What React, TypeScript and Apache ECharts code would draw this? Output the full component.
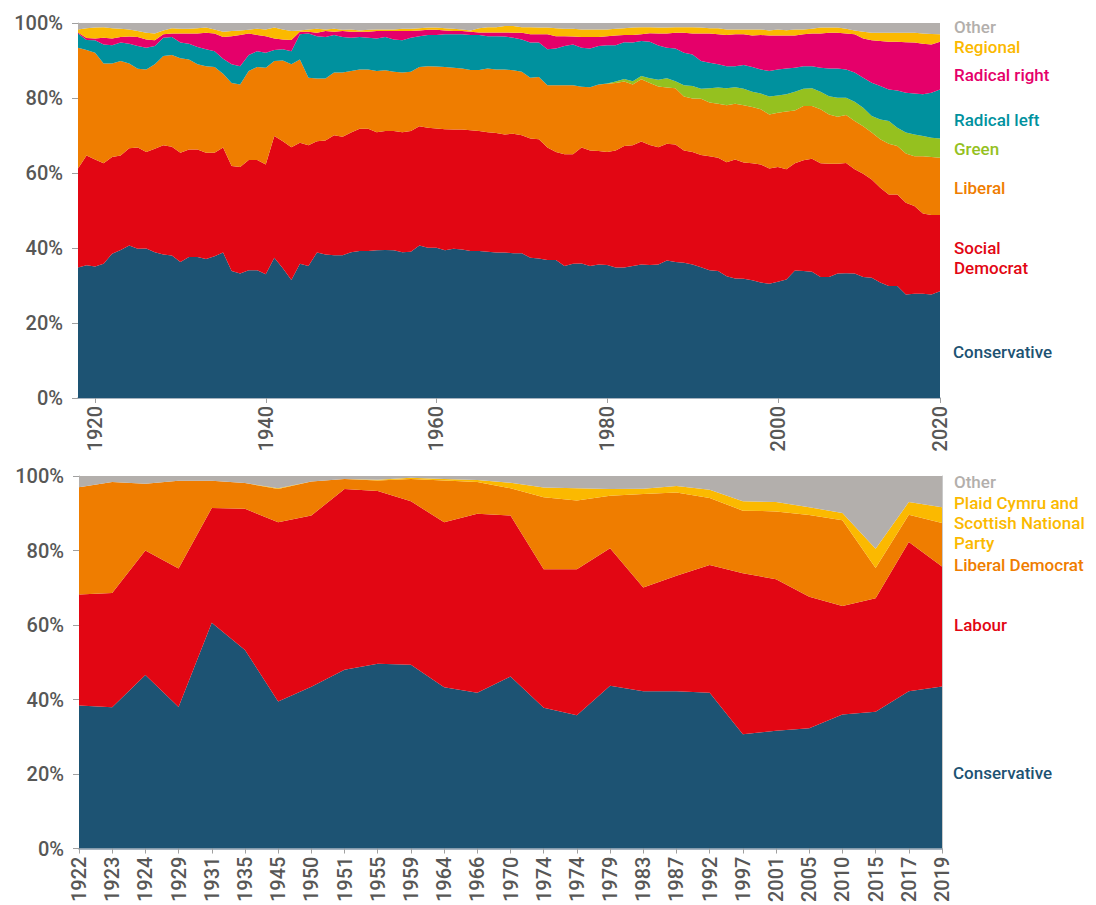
import React, { useEffect, useRef } from "react";
import * as echarts from "echarts";

// ---------- Top panel: yearly vote shares by party family (1918–2019) ----------
const years: string[] = Array.from({ length: 102 }, (_, i) => String(1918 + i));
const yearTickLabels = ["1920", "1940", "1960", "1980", "2000"];
const lastYearLabel = "2020";

const conservative = [
  34.8, 35.4, 35.1, 35.8, 38.5, 39.5, 40.7, 39.8, 39.9, 38.9,
  38.3, 38.0, 36.3, 37.6, 37.6, 37.1, 37.8, 38.8, 33.9, 33.2,
  34.1, 34.1, 33.0, 37.4, 34.6, 31.5, 35.8, 35.2, 38.8, 38.3,
  38.1, 38.1, 38.9, 39.2, 39.2, 39.4, 39.5, 39.4, 38.9, 39.0,
  40.7, 40.1, 40.1, 39.4, 39.8, 39.6, 39.2, 39.2, 39.0, 38.8,
  38.8, 38.6, 38.6, 37.4, 37.2, 36.8, 36.8, 35.2, 35.8, 35.9,
  35.2, 35.6, 35.5, 34.8, 34.8, 35.2, 35.6, 35.5, 35.6, 36.7,
  36.3, 36.1, 35.6, 34.9, 34.1, 33.9, 32.5, 31.9, 31.8, 31.4,
  30.8, 30.5, 31.0, 31.6, 34.0, 33.9, 33.7, 32.3, 32.3, 33.2,
  33.3, 33.2, 32.3, 32.1, 30.8, 29.9, 29.9, 27.6, 27.8, 27.8,
  27.6, 28.5,
];
const socialDemocrat = [
  26.4, 29.3, 28.5, 26.8, 25.8, 25.2, 25.9, 27.0, 25.7, 27.6,
  29.1, 29.0, 29.1, 28.7, 28.7, 28.3, 27.6, 28.0, 28.0, 28.4,
  29.4, 29.4, 29.3, 32.5, 33.9, 35.4, 32.3, 32.2, 29.7, 30.4,
  32.0, 31.6, 31.9, 32.6, 32.6, 31.5, 31.7, 31.8, 32.0, 32.2,
  31.8, 32.0, 31.8, 32.3, 31.8, 32.0, 32.2, 32.0, 31.9, 31.9,
  31.5, 31.9, 31.5, 31.8, 31.8, 30.0, 28.8, 29.8, 29.2, 30.9,
  30.8, 30.3, 30.1, 31.2, 32.4, 32.2, 32.8, 32.0, 31.3, 31.1,
  31.3, 29.9, 30.0, 29.9, 30.4, 30.2, 30.4, 31.7, 31.0, 31.2,
  31.5, 30.7, 30.6, 29.4, 28.6, 29.5, 30.1, 30.3, 30.2, 29.3,
  29.4, 27.8, 27.5, 26.2, 25.3, 24.4, 24.4, 24.5, 23.4, 21.4,
  21.2, 20.3,
];
const liberal = [
  32.2, 28.1, 28.5, 26.6, 24.9, 25.2, 22.6, 21.0, 22.0, 22.5,
  23.8, 24.5, 25.2, 24.0, 22.7, 23.1, 22.9, 19.7, 22.1, 22.0,
  23.7, 24.8, 25.8, 20.0, 21.5, 22.1, 22.2, 18.0, 16.7, 16.5,
  16.7, 17.1, 16.4, 15.8, 15.8, 16.3, 16.2, 15.8, 15.9, 15.8,
  15.8, 16.4, 16.5, 16.6, 16.5, 16.3, 16.1, 16.3, 17.0, 16.9,
  17.3, 16.9, 16.9, 16.2, 16.6, 16.6, 17.8, 18.4, 18.4, 16.2,
  16.9, 17.7, 18.2, 18.0, 17.2, 16.2, 16.6, 16.5, 16.2, 15.0,
  15.0, 14.4, 14.3, 15.0, 14.3, 14.4, 15.2, 14.9, 15.3, 15.0,
  14.7, 14.4, 14.5, 15.4, 14.1, 14.5, 14.1, 14.4, 13.1, 12.5,
  12.8, 12.9, 12.7, 12.5, 12.9, 13.5, 12.9, 13.1, 13.3, 15.3,
  15.5, 15.3,
];
const green = [
  0, 0, 0, 0, 0, 0, 0, 0, 0, 0,
  0, 0, 0, 0, 0, 0, 0, 0, 0, 0,
  0, 0, 0, 0, 0, 0, 0, 0, 0, 0,
  0, 0, 0, 0, 0, 0, 0, 0, 0, 0,
  0, 0, 0, 0, 0, 0, 0, 0, 0, 0,
  0, 0, 0, 0, 0, 0, 0, 0, 0, 0,
  0, 0, 0.1, 0.4, 0.7, 0.9, 0.9, 1.3, 1.8, 2.5,
  1.9, 3.0, 3.3, 2.7, 3.8, 4.3, 4.5, 4.4, 4.4, 4.1,
  4.2, 4.8, 4.6, 4.6, 5.0, 4.6, 4.7, 4.7, 4.9, 5.1,
  4.6, 5.1, 4.9, 4.4, 5.3, 6.1, 4.9, 5.6, 5.8, 5.4,
  5.1, 5.1,
];
const radicalLeft = [
  3.8, 2.7, 3.3, 5.1, 4.9, 4.9, 5.3, 6.1, 5.8, 4.9,
  4.9, 4.8, 4.2, 4.2, 4.6, 4.5, 4.2, 4.0, 5.0, 4.9,
  4.3, 4.2, 4.0, 2.9, 3.0, 3.5, 6.7, 11.8, 11.3, 11.1,
  10.0, 9.5, 8.9, 8.7, 8.5, 8.7, 8.9, 8.6, 8.6, 9.1,
  8.2, 8.3, 8.4, 8.7, 8.9, 9.1, 9.3, 9.3, 8.6, 8.9,
  8.8, 8.7, 8.6, 9.4, 9.2, 9.6, 9.8, 10.5, 10.9, 10.4,
  10.3, 10.3, 10.2, 9.7, 9.8, 10.3, 9.3, 9.7, 9.1, 8.1,
  8.7, 8.7, 8.4, 7.4, 6.8, 6.2, 5.9, 5.6, 6.3, 6.6,
  6.4, 6.8, 6.9, 6.9, 6.4, 6.0, 5.9, 6.4, 7.4, 7.8,
  7.5, 7.8, 8.0, 8.9, 8.9, 8.4, 9.9, 10.6, 10.9, 11.1,
  12.0, 13.1,
];
const radicalRight = [
  0.3, 0.5, 0.5, 1.8, 1.8, 1.5, 1.9, 2.4, 2.2, 1.5,
  0.9, 0.9, 2.4, 2.7, 3.6, 4.4, 4.7, 5.8, 7.5, 8.3,
  5.7, 4.3, 4.4, 3.1, 2.6, 3.0, 0.7, 0.5, 0.9, 1.6,
  0.9, 1.6, 1.6, 1.4, 1.6, 2.0, 1.6, 2.3, 2.5, 1.8,
  1.5, 1.4, 1.4, 1.0, 0.9, 0.9, 0.9, 0.7, 1.0, 1.0,
  1.1, 1.3, 1.8, 2.2, 2.2, 4.0, 3.3, 2.6, 2.1, 2.9,
  3.1, 2.4, 2.4, 2.6, 1.9, 2.0, 1.8, 2.3, 3.2, 3.8,
  4.2, 5.3, 5.6, 7.3, 7.8, 8.0, 8.3, 8.5, 8.2, 8.4,
  9.2, 9.5, 9.1, 8.8, 8.6, 8.5, 8.7, 9.1, 9.5, 9.5,
  9.6, 10.2, 10.5, 11.3, 12.0, 12.7, 13.0, 13.5, 13.6, 13.5,
  12.9, 12.7,
];
const regional = [
  0.8, 2.6, 2.9, 2.8, 2.7, 2.2, 1.9, 1.6, 1.8, 1.8,
  1.0, 1.4, 1.3, 1.3, 1.4, 1.4, 1.1, 1.4, 1.4, 1.2,
  1.0, 1.7, 1.8, 2.9, 2.7, 2.4, 0.3, 0.6, 1.1, 0.4,
  0.8, 0.3, 0.6, 0.3, 0.5, 0.4, 0.4, 0.4, 0.6, 0.6,
  0.6, 0.6, 0.6, 0.6, 0.6, 0.4, 0.3, 1.1, 1.4, 1.4,
  1.7, 1.8, 1.5, 1.9, 1.8, 1.8, 2.1, 2.0, 2.1, 2.0,
  2.0, 2.0, 1.8, 1.8, 1.8, 2.0, 1.9, 1.6, 1.6, 1.6,
  1.5, 1.5, 1.7, 1.6, 1.4, 1.6, 1.5, 1.3, 1.3, 1.6,
  1.5, 1.3, 1.6, 1.4, 1.6, 1.3, 1.3, 1.6, 1.4, 1.4,
  1.3, 1.0, 1.8, 2.0, 2.2, 2.4, 2.4, 2.5, 2.6, 2.7,
  2.8, 2.0,
];
const other = [
  1.7, 1.4, 1.2, 1.1, 1.4, 1.5, 1.7, 2.1, 2.6, 2.8,
  2.0, 1.4, 1.5, 1.5, 1.4, 1.2, 1.7, 2.3, 2.1, 2.0,
  1.8, 1.5, 1.7, 1.2, 1.7, 2.1, 2.0, 1.7, 1.5, 1.7,
  1.5, 1.8, 1.7, 2.0, 1.8, 1.7, 1.7, 1.7, 1.5, 1.5,
  1.4, 1.2, 1.2, 1.4, 1.5, 1.7, 2.0, 1.4, 1.1, 1.1,
  0.8, 0.8, 1.1, 1.1, 1.2, 1.2, 1.4, 1.5, 1.5, 1.7,
  1.7, 1.7, 1.7, 1.5, 1.4, 1.2, 1.1, 1.1, 1.2, 1.2,
  1.1, 1.1, 1.1, 1.2, 1.4, 1.4, 1.7, 1.7, 1.7, 1.7,
  1.7, 2.0, 1.7, 1.9, 1.7, 1.7, 1.5, 1.2, 1.2, 1.2,
  1.5, 2.0, 2.3, 2.6, 2.6, 2.6, 2.6, 2.6, 2.6, 2.8,
  2.9, 3.0,
];

// ---------- Bottom panel: UK general elections ----------
const electionYears = [
  "1922", "1923", "1924", "1929", "1931", "1935", "1945", "1950", "1951",
  "1955", "1959", "1964", "1966", "1970", "1974", "1974", "1979", "1983",
  "1987", "1992", "1997", "2001", "2005", "2010", "2015", "2017", "2019",
];
const ukConservative = [38.4, 37.9, 46.6, 38.0, 60.6, 53.3, 39.5, 43.4, 48.0, 49.6, 49.3, 43.3, 41.8, 46.2, 37.8, 35.8, 43.7, 42.2, 42.2, 41.8, 30.7, 31.6, 32.3, 36.0, 36.7, 42.2, 43.5];
const ukLabour = [29.8, 30.7, 33.4, 37.2, 30.8, 37.9, 48.1, 46.0, 48.5, 46.4, 43.9, 44.3, 48.1, 43.2, 37.2, 39.2, 36.9, 27.9, 31.0, 34.3, 43.2, 40.7, 35.3, 29.1, 30.5, 40.1, 32.2];
const ukLibDem = [28.8, 29.8, 17.9, 23.5, 7.3, 6.9, 8.9, 9.1, 2.7, 2.8, 6.0, 11.2, 8.5, 7.3, 19.3, 18.4, 14.1, 25.1, 22.4, 18.0, 16.8, 18.2, 21.9, 23.0, 8.1, 7.3, 11.7];
const ukPcSnp = [0, 0, 0, 0, 0, 0, 0.2, 0, 0, 0.2, 0.3, 0.4, 0.5, 1.5, 2.6, 3.3, 1.8, 1.4, 1.7, 2.2, 2.5, 2.5, 2.1, 2.0, 5.2, 3.4, 4.2];
const ukOther = [3.0, 1.6, 2.1, 1.3, 1.3, 1.9, 3.3, 1.5, 0.8, 1.0, 0.5, 0.8, 1.1, 1.8, 3.1, 3.3, 3.5, 3.4, 2.7, 3.7, 6.8, 7.0, 8.4, 9.9, 19.5, 7.0, 8.4];

const C = {
  con: "#1d5373",
  red: "#e20613",
  orange: "#ef7d00",
  green: "#95c11f",
  teal: "#00919e",
  magenta: "#e5006a",
  yellow: "#fbb900",
  grey: "#b3afac",
};

const FONT = 'Roboto, "Noto Sans", "DejaVu Sans", sans-serif';
const AXIS_TEXT = "#575756";

function areaSeries(name: string, data: number[], color: string, stack: string, idx: number) {
  return {
    name,
    type: "line",
    stack,
    xAxisIndex: idx,
    yAxisIndex: idx,
    data,
    symbol: "none",
    showSymbol: false,
    lineStyle: { width: 0, color },
    itemStyle: { color },
    areaStyle: { color, opacity: 1 },
    emphasis: { disabled: true },
  };
}

// one text element per line, so that lines of a wrapped label never overlap
function label(text: string, x: number, y: number, color: string) {
  return {
    type: "text",
    x,
    y,
    silent: true,
    style: {
      text,
      fill: color,
      fontSize: 17,
      fontWeight: 500,
      fontFamily: FONT,
      textVerticalAlign: "middle",
      verticalAlign: "middle",
      textAlign: "left",
      align: "left",
    },
  };
}

const topTickShown = (i: number, v: string) =>
  yearTickLabels.indexOf(v) >= 0 || i === years.length - 1;

function buildOption() {
  const yAxisBase = {
    type: "value",
    min: 0,
    max: 100,
    interval: 20,
    axisLine: { show: true, lineStyle: { color: "#b8b8b8" } },
    axisTick: { show: true, length: 6, lineStyle: { color: "#a0a0a0" } },
    axisLabel: {
      formatter: "{value}%",
      color: AXIS_TEXT,
      fontSize: 20,
      fontWeight: 500,
      fontFamily: FONT,
      margin: 15,
    },
    splitLine: { show: false },
  };
  return {
    animation: false,
    backgroundColor: "#ffffff",
    grid: [
      { left: 78, top: 23, width: 862, height: 375 },
      { left: 79, top: 476, width: 863, height: 376 },
    ],
    xAxis: [
      {
        type: "category",
        gridIndex: 0,
        data: years,
        boundaryGap: false,
        axisLine: { show: true, lineStyle: { color: "#8a9aab", width: 1.5 } },
        axisTick: { show: true, length: 5, interval: topTickShown, lineStyle: { color: "#a0a0a0" } },
        axisLabel: {
          interval: topTickShown,
          rotate: 90,
          color: AXIS_TEXT,
          fontSize: 20,
          fontWeight: 500,
          fontFamily: FONT,
          margin: 8,
          formatter: (v: string, i: number) => (i === years.length - 1 ? lastYearLabel : v),
        },
        splitLine: { show: false },
      },
      {
        type: "category",
        gridIndex: 1,
        data: electionYears,
        boundaryGap: false,
        axisLine: { show: true, lineStyle: { color: "#8a9aab", width: 1.5 } },
        axisTick: { show: true, length: 5, interval: 0, lineStyle: { color: "#a0a0a0" } },
        axisLabel: {
          interval: 0,
          rotate: 90,
          color: AXIS_TEXT,
          fontSize: 20,
          fontWeight: 500,
          fontFamily: FONT,
          margin: 8,
        },
        splitLine: { show: false },
      },
    ],
    yAxis: [
      { ...yAxisBase, gridIndex: 0 },
      { ...yAxisBase, gridIndex: 1 },
      {
        type: "value",
        gridIndex: 1,
        position: "right",
        min: 0,
        max: 100,
        axisLine: { show: true, lineStyle: { color: "#c9c9c9" } },
        axisTick: { show: false },
        axisLabel: { show: false },
        splitLine: { show: false },
      },
    ],
    series: [
      areaSeries("Conservative", conservative, C.con, "top", 0),
      areaSeries("Social Democrat", socialDemocrat, C.red, "top", 0),
      areaSeries("Liberal", liberal, C.orange, "top", 0),
      areaSeries("Green", green, C.green, "top", 0),
      areaSeries("Radical left", radicalLeft, C.teal, "top", 0),
      areaSeries("Radical right", radicalRight, C.magenta, "top", 0),
      areaSeries("Regional", regional, C.yellow, "top", 0),
      areaSeries("Other", other, C.grey, "top", 0),
      areaSeries("Conservative", ukConservative, C.con, "bottom", 1),
      areaSeries("Labour", ukLabour, C.red, "bottom", 1),
      areaSeries("Liberal Democrat", ukLibDem, C.orange, "bottom", 1),
      areaSeries("Plaid Cymru and Scottish National Party", ukPcSnp, C.yellow, "bottom", 1),
      areaSeries("Other", ukOther, C.grey, "bottom", 1),
    ],
    graphic: [
      label("Other", 954, 27, C.grey),
      label("Regional", 954, 47, C.yellow),
      label("Radical right", 954, 75, C.magenta),
      label("Radical left", 954, 120, C.teal),
      label("Green", 954, 149, C.green),
      label("Liberal", 954, 188, C.orange),
      label("Social", 954, 248, C.red),
      label("Democrat", 954, 268, C.red),
      label("Conservative", 953, 352, C.con),
      label("Other", 954, 482, C.grey),
      label("Plaid Cymru and", 954, 503, C.yellow),
      label("Scottish National", 954, 523, C.yellow),
      label("Party", 954, 543, C.yellow),
      label("Liberal Democrat", 954, 565, C.orange),
      label("Labour", 954, 625, C.red),
      label("Conservative", 953, 773, C.con),
    ],
  };
}

export default function App() {
  const ref = useRef<HTMLDivElement>(null);
  useEffect(() => {
    if (!ref.current) return;
    const chart = echarts.init(ref.current, null, { renderer: "svg" });
    chart.setOption(buildOption() as any);
    return () => {
      chart.dispose();
    };
  }, []);
  return (
    <div
      ref={ref}
      style={{ position: "absolute", left: 0, top: 0, width: 1096, height: 905, background: "#fff" }}
    />
  );
}
